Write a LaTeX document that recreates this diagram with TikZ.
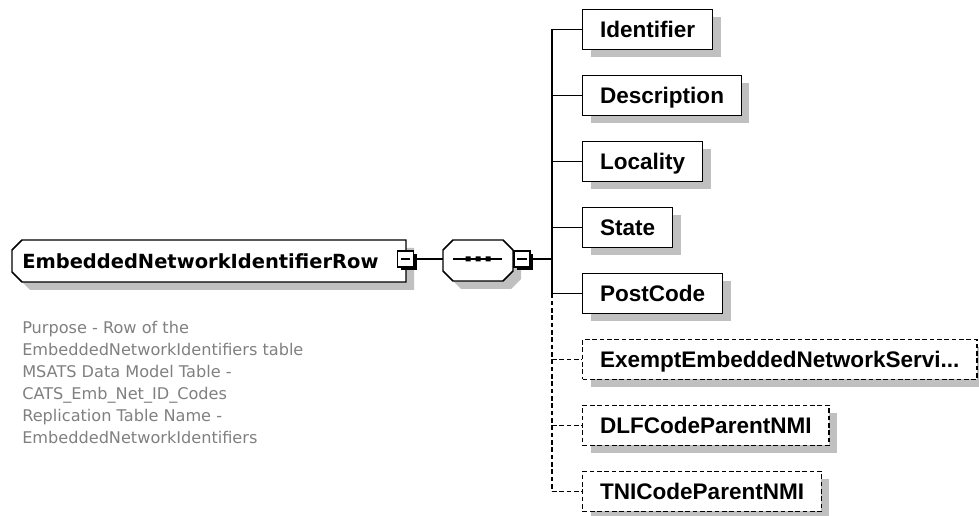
\documentclass[tikz,border=0pt]{standalone}
\usepackage{fontspec}
\setmainfont{Liberation Sans}
\newfontfamily\notefont{DejaVu Sans}
\usetikzlibrary{shadows}

\definecolor{shadowgray}{RGB}{192,192,192}
\definecolor{notegray}{RGB}{128,128,128}

\tikzset{
    elembox/.style={draw, line width=1.1pt, fill=white, anchor=west,
        minimum height=30pt, inner xsep=13pt, inner ysep=0pt,
        text height=12.1pt, text depth=0pt,
        font=\fontsize{16.9}{18}\selectfont\bfseries,
        drop shadow={shadow xshift=6pt, shadow yshift=-6pt, fill=shadowgray, opacity=1}},
    optbox/.style={elembox, dash pattern=on 3.5pt off 2pt},
    minusbox/.style={draw, line width=1pt, fill=white, minimum size=12pt, inner sep=0pt,
        drop shadow={shadow xshift=2.5pt, shadow yshift=-2.5pt, fill=black, opacity=1},
        path picture={\draw [line width=0.9pt] ([xshift=2.5pt]path picture bounding box.west) -- ([xshift=-2.5pt]path picture bounding box.east);}},
    conn/.style={line width=1pt},
    optconn/.style={conn, dash pattern=on 3.5pt off 2pt},
}

\begin{document}
\begin{tikzpicture}[x=0.75pt, y=-0.75pt]
    \useasboundingbox (0,0) rectangle (979,516);

    % root element
    \fill [shadowgray] (30,248) -- (414,248) -- (414,290) -- (30,290) -- (20,280) -- (20,258) -- cycle;
    \draw [line width=1.1pt, fill=white] (22,240) -- (406,240) -- (406,282) -- (22,282) -- (12,272) -- (12,250) -- cycle;
    \node [anchor=west, inner sep=0pt, text height=10.65pt, text depth=0pt,
        font=\notefont\fontsize{14.6}{16}\selectfont\bfseries] (root) at (22,261.5) {EmbeddedNetworkIdentifierRow};
    \node [minusbox] (rootminus) at (405.5,259) {};

    \node [anchor=north west, inner sep=0pt, align=left, text=notegray,
        font=\notefont\fontsize{12.1}{16.4}\selectfont] (note) at (22,321.2)
        {Purpose - Row of the\\EmbeddedNetworkIdentifiers table\\MSATS Data Model Table -\\CATS\_Emb\_Net\_ID\_Codes\\Replication Table Name -\\EmbeddedNetworkIdentifiers};

    % sequence
    \fill [shadowgray] (461,248) -- (511,248) -- (521,258) -- (521,279) -- (511,289) -- (461,289) -- (451,279) -- (451,258) -- cycle;
    \draw [line width=1.1pt, fill=white] (453,240) -- (503,240) -- (513,250) -- (513,271) -- (503,281) -- (453,281) -- (443,271) -- (443,250) -- cycle;
    \node [minimum width=52.5pt, minimum height=30.75pt, inner sep=0pt] (seq) at (478,260.5) {};
    \draw [conn] (453,259) -- (502,259);
    \fill (465.5,256.5) rectangle (470.5,261.5) (475.5,256.5) rectangle (480.5,261.5) (485.5,256.5) rectangle (490.5,261.5);
    \node [minusbox] (seqminus) at (522,259) {};

    \draw [conn] (rootminus.east) -- (rootminus.east -| seq.west);
    \coordinate (spine) at (552,259);
    \draw [conn] (seqminus.east) -- (spine);

    % children
    \node [elembox] (ident) at (582,29.5) {Identifier};
    \node [elembox] (descr) at (582,95.5) {Description};
    \node [elembox] (local) at (582,161.5) {Locality};
    \node [elembox] (state) at (582,227.5) {State};
    \node [elembox] (post) at (582,293.5) {PostCode};
    \node [optbox] (exempt) at (582,359.5) {ExemptEmbeddedNetworkServi...};
    \node [optbox] (dlf) at (582,425.5) {DLFCodeParentNMI};
    \node [optbox] (tni) at (582,491.5) {TNICodeParentNMI};

    \draw [conn] (spine |- ident.west) -- (spine |- post.west);
    \draw [optconn] (spine |- post.west) -- (spine |- tni.west);
    \draw [conn] (spine |- ident.west) -- (ident.west);
    \draw [conn] (spine |- descr.west) -- (descr.west);
    \draw [conn] (spine |- local.west) -- (local.west);
    \draw [conn] (spine |- state.west) -- (state.west);
    \draw [conn] (spine |- post.west) -- (post.west);
    \draw [optconn] (spine |- exempt.west) -- (exempt.west);
    \draw [optconn] (spine |- dlf.west) -- (dlf.west);
    \draw [optconn] (spine |- tni.west) -- (tni.west);
\end{tikzpicture}
\end{document}
